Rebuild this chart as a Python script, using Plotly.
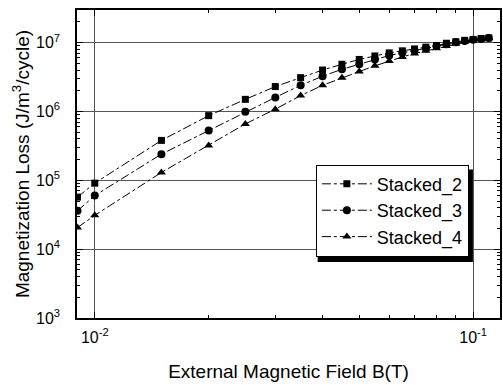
import plotly.graph_objects as go

# External magnetic field (T)
field_T = [0.009, 0.01, 0.015, 0.02, 0.025, 0.03, 0.035, 0.04, 0.045, 0.05,
           0.055, 0.06, 0.065, 0.07, 0.075, 0.08, 0.085, 0.09, 0.095, 0.1,
           0.105, 0.11]

# Magnetization loss (J/m^3/cycle) per stack configuration
loss_stacked_2 = [5.7e4, 9.1e4, 3.8e5, 8.7e5, 1.5e6, 2.3e6, 3.1e6, 4.0e6, 4.85e6, 5.7e6,
                  6.4e6, 7.1e6, 7.6e6, 8.1e6, 8.6e6, 9.1e6, 9.8e6, 1.03e7, 1.08e7, 1.11e7,
                  1.15e7, 1.17e7]
loss_stacked_3 = [3.6e4, 6.0e4, 2.4e5, 5.3e5, 9.9e5, 1.6e6, 2.4e6, 3.25e6, 4.1e6, 4.85e6,
                  5.7e6, 6.5e6, 7.1e6, 7.7e6, 8.3e6, 8.9e6, 9.5e6, 1.01e7, 1.06e7, 1.1e7,
                  1.13e7, 1.17e7]
loss_stacked_4 = [2.06e4, 3.1e4, 1.3e5, 3.2e5, 6.6e5, 1.08e6, 1.7e6, 2.4e6, 3.1e6, 3.8e6,
                  4.6e6, 5.4e6, 6.2e6, 6.95e6, 7.6e6, 8.3e6, 8.9e6, 9.6e6, 1.03e7, 1.08e7,
                  1.13e7, 1.17e7]

series_names = ["Stacked_2", "Stacked_3", "Stacked_4"]
series_symbols = ["square", "circle", "triangle-up"]
series_sizes = [7, 8, 8]

x_tick_vals = [0.01, 0.1]
x_tick_text = ["10<sup>-2</sup>", "10<sup>-1</sup>"]
y_tick_vals = [1e3, 1e4, 1e5, 1e6, 1e7]
y_tick_text = ["10<sup>3</sup>", "10<sup>4</sup>", "10<sup>5</sup>", "10<sup>6</sup>", "10<sup>7</sup>"]

FONT = "Arial, Liberation Sans, sans-serif"

fig = go.Figure()
for name, ys, sym, sz in zip(series_names,
                             [loss_stacked_2, loss_stacked_3, loss_stacked_4],
                             series_symbols, series_sizes):
    fig.add_trace(go.Scatter(
        x=field_T, y=ys, name=name, mode="lines+markers",
        line=dict(color="black", width=1, dash="dashdot"),
        marker=dict(symbol=sym, size=sz, color="black"),
    ))

x_lo, x_hi = -2.047, -0.929
y_lo, y_hi = 3.0, 7.474

axis_common = dict(
    showline=True, linecolor="black", linewidth=1.5, mirror="ticks",
    ticks="inside", ticklen=6, tickcolor="black", tickwidth=1,
    showgrid=True, gridcolor="#555", gridwidth=1,
    zeroline=False,
    tickfont=dict(family=FONT, size=16, color="black"),
    title_font=dict(family=FONT, size=19, color="black"),
)

fig.update_xaxes(
    type="log", range=[x_lo, x_hi],
    tickmode="array", tickvals=x_tick_vals, ticktext=x_tick_text,
    ticklabelstandoff=4,
    minor=dict(ticks="inside", ticklen=3, tickcolor="black", dtick="D1", showgrid=False),
    title_text="External Magnetic Field B(T)", title_standoff=20,
    **axis_common,
)
fig.update_yaxes(
    type="log", range=[y_lo, y_hi],
    tickmode="array", tickvals=y_tick_vals, ticktext=y_tick_text,
    ticklabelstandoff=12,
    minor=dict(ticks="inside", ticklen=3, tickcolor="black", dtick="D1", showgrid=False),
    title_text="Magnetization Loss (J/m<sup>3</sup>/cycle)", title_standoff=1,
    **axis_common,
)

# Legend drop shadow (offset down-right from the legend box)
fig.add_shape(type="rect", xref="paper", yref="paper",
              x0=0.569, x1=0.936, y0=0.182, y1=0.482,
              fillcolor="black", line=dict(width=0), layer="above")

fig.update_layout(
    width=503, height=385,
    margin=dict(l=77, r=1, t=10, b=67),
    paper_bgcolor="white", plot_bgcolor="white",
    font=dict(family=FONT, size=16, color="black"),
    legend=dict(
        x=0.5647, y=0.498, xanchor="left", yanchor="top",
        bgcolor="white", bordercolor="black", borderwidth=1,
        font=dict(family=FONT, size=18, color="black"),
        itemwidth=50, tracegroupgap=0,
    ),
    showlegend=True,
)

fig.write_html("out.html")
